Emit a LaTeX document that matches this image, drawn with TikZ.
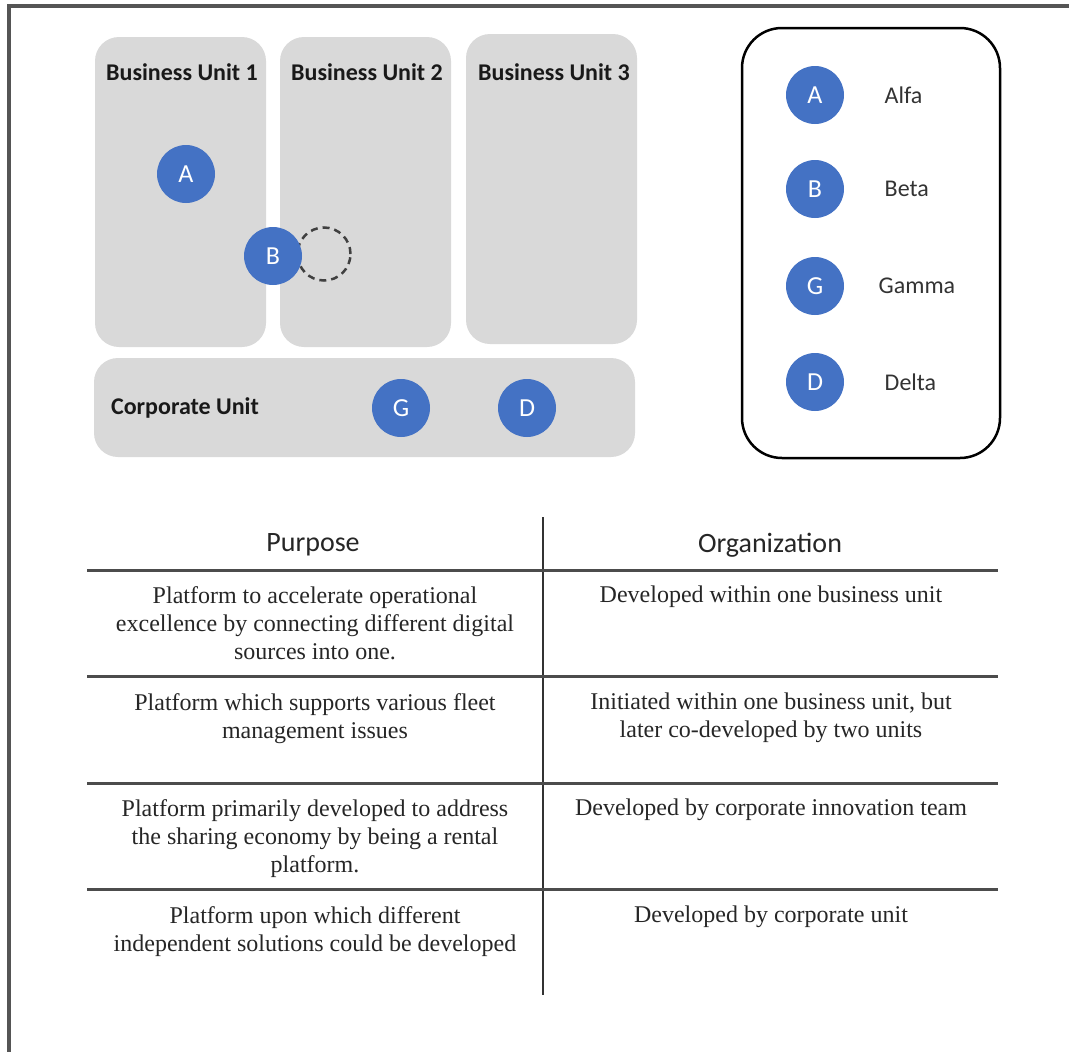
\documentclass[tikz,border=0pt]{standalone}
\usepackage{fontspec}
\setmainfont{Liberation Serif}
\setsansfont{Carlito}
\usepackage{tikz}
\usetikzlibrary{positioning}
\usepackage{xcolor}

\definecolor{unitgray}{HTML}{D9D9D9}
\definecolor{platblue}{HTML}{4472C4}
\definecolor{framegray}{HTML}{555555}

\tikzset{
  unitbox/.style={fill=unitgray, rounded corners=24pt, inner sep=0pt},
  unittitle/.style={font=\sffamily\bfseries\fontsize{24}{28}\selectfont, text=black!90},
  platform/.style={circle, fill=platblue, text=white, minimum size=58pt, inner sep=0pt,
    font=\sffamily\fontsize{26}{30}\selectfont},
  ghost/.style={circle, draw=black!75, dash pattern=on 7pt off 5pt, line width=2.5pt,
    minimum size=53pt, inner sep=0pt},
  legendname/.style={font=\sffamily\fontsize{24}{28}\selectfont, text=black!80, anchor=west},
  colhead/.style={font=\sffamily\fontsize{28}{32}\selectfont, text=black!85},
  cell/.style={align=center, inner sep=0pt, anchor=north, text=black!85,
    font=\rmfamily\fontsize{24}{28}\selectfont},
  rule/.style={draw=black!70, line width=3pt}
}

\begin{document}
\begin{tikzpicture}[x=1pt,y=-1pt]
\useasboundingbox (0,0) rectangle (1069,1052);

%frame
\draw[framegray, line width=3.5pt] (9,1052)--(9,6)--(1069,6);

%units
\node[unitbox, minimum width=171pt, minimum height=310pt] (bu1) at (180.5,192) {};
\node[unitbox, minimum width=171pt, minimum height=310pt] (bu2) at (365.5,192) {};
\node[unitbox, minimum width=171pt, minimum height=310pt] (bu3) at (551.5,189) {};
\node[unitbox, minimum width=541pt, minimum height=99pt] (corp) at (364.5,407.5) {};

\node[unittitle] (bu1title) at (182,72) {Business Unit 1};
\node[unittitle] (bu2title) at (367,72) {Business Unit 2};
\node[unittitle] (bu3title) at (554,72) {Business Unit 3};
\node[unittitle] (corptitle) at (185,408) {Corporate Unit};

%platforms
\node[platform] (alfa) at (186,174) {A};
\node[ghost] (betamove) at (324,254) {};
\node[platform] (beta) at (273,256) {B};
\node[platform] (gamma) at (401,408) {G};
\node[platform] (delta) at (527,408) {D};

%legend
\draw[black, line width=2.5pt, rounded corners=40pt] (742,28) rectangle (1000,458);

\node[platform] (legA) at (815,95) {A};
\node[platform] (legB) at (815,189) {B};
\node[platform] (legG) at (815,286) {G};
\node[platform] (legD) at (815,382) {D};

\node[legendname, right=37pt of legA] (nameA) {Alfa};
\node[legendname, right=37pt of legB] (nameB) {Beta};
\node[legendname, right=31pt of legG] (nameG) {Gamma};
\node[legendname, right=37pt of legD] (nameD) {Delta};

%table
\draw[black!80, line width=2pt] (543,517)--(543,995);
\foreach \ry in {570,676,783,889}
  \draw[rule] (87,\ry)--(998,\ry);

\node[colhead] (purpose) at (313,545) {Purpose};
\node[colhead] (organization) at (770,545) {Organization};

\node[cell] (purp1) at (315,586) {Platform to accelerate operational\\excellence by connecting different digital\\sources into one.};
\node[cell] (org1) at (771,586) {Developed within one business unit};

\node[cell] (purp2) at (315,693) {Platform which supports various fleet\\management issues};
\node[cell] (org2) at (771,693) {Initiated within one business unit, but\\later co-developed by two units};

\node[cell] (purp3) at (315,799) {Platform primarily developed to address\\the sharing economy by being a rental\\platform.};
\node[cell] (org3) at (771,799) {Developed by corporate innovation team};

\node[cell] (purp4) at (315,906) {Platform upon which different\\independent solutions could be developed};
\node[cell] (org4) at (771,906) {Developed by corporate unit};

\end{tikzpicture}
\end{document}
